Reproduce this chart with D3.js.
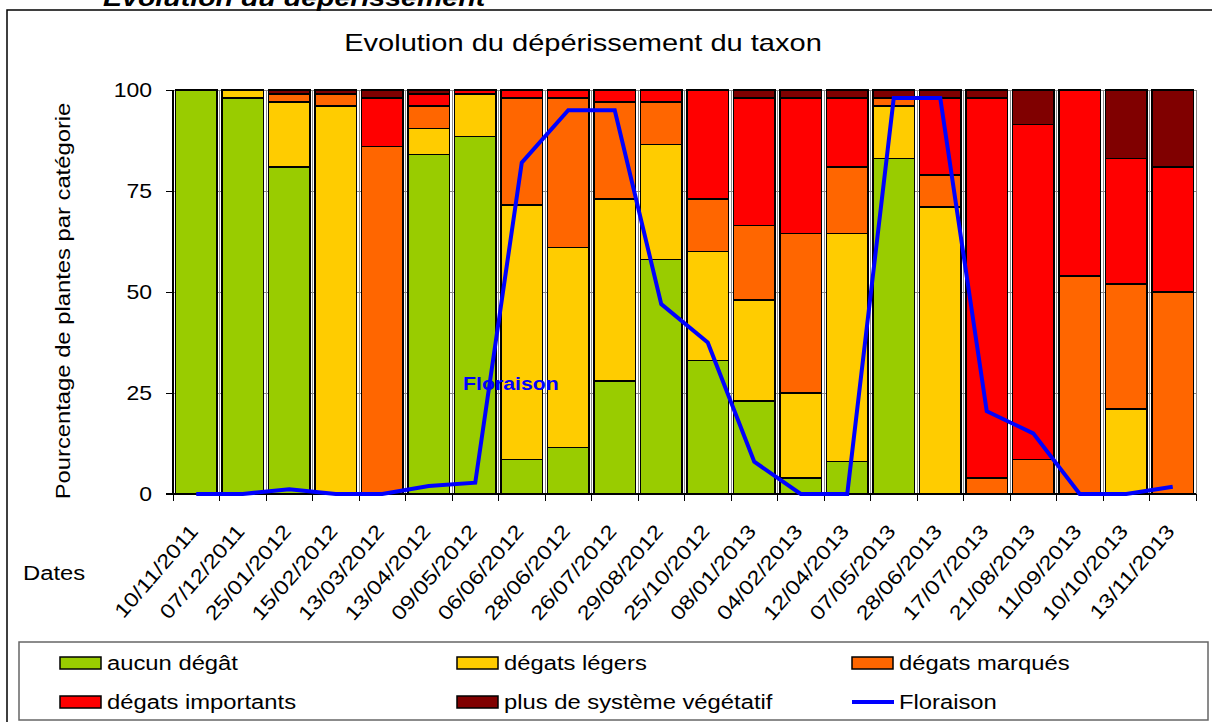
<!DOCTYPE html>
<html>
<head>
<meta charset="utf-8">
<script src="https://d3js.org/d3.v7.min.js"></script>
<style>
body { margin: 0; background: #fff; }
svg { font-family: 'Liberation Sans', Arial, sans-serif; }
.grid line { stroke: #8a8a8a; stroke-width: 1; shape-rendering: crispEdges; }
.seg { stroke: #000; stroke-width: 1.6; shape-rendering: crispEdges; }
</style>
</head>
<body>
<div id="chart"></div>
<script>
// dates (categories)
const dates = ["10/11/2011","07/12/2011","25/01/2012","15/02/2012","13/03/2012","13/04/2012",
  "09/05/2012","06/06/2012","28/06/2012","26/07/2012","29/08/2012","25/10/2012","08/01/2013",
  "04/02/2013","12/04/2013","07/05/2013","28/06/2013","17/07/2013","21/08/2013","11/09/2013",
  "10/10/2013","13/11/2013"];

// percentages per damage class
const aucun      = [100, 98, 81,  0,  0, 84, 88.5,  8.5, 11.5, 28, 58,   33, 23,   4,    8,  83,  0,  0,   0,  0,  0,  0];
const legers     = [  0,  2, 16, 96,  0, 6.5, 10.5, 63,  49.5, 45, 28.5, 27, 25,   21,   56.5, 13, 71,  0,   0,  0, 21,  0];
const marques    = [  0,  0,  2,  3, 86, 5.5,  0,  26.5, 37,   24, 10.5, 13, 18.5, 39.5, 16.5, 2,  8,  4,  8.5, 54, 31, 50];
const importants = [  0,  0,  0,  0, 12, 3,    1,   2,    2,    3,  3,   27, 31.5, 33.5, 17,   0, 19, 94, 83,  46, 31, 31];
const plus       = [  0,  0,  1,  1,  2, 1,    0,   0,    0,    0,  0,    0,  2,    2,    2,   2,  2,  2,  8.5,  0, 17, 19];
const floraison  = [0, 0, 1.2, 0, 0, 2, 2.8, 82, 95, 95, 47, 37.5, 8, 0, 0, 98, 98, 20.5, 15, 0, 0, 1.8];

const keys = ["aucun", "legers", "marques", "importants", "plus"];
const labels = ["aucun dégât", "dégats légers", "dégats marqués", "dégats importants", "plus de système végétatif"];
const colors = ["#99CC00", "#FFCC00", "#FF6600", "#FF0000", "#800000"];
const yTicks = [0, 25, 50, 75, 100];

const rows = dates.map((d, i) => ({
  date: d, aucun: aucun[i], legers: legers[i], marques: marques[i],
  importants: importants[i], plus: plus[i], flor: floraison[i]
}));

const W = 1212, H = 722;
const K = 1.19; // glyphs in the source are wider than Arial

const svg = d3.select("#chart").append("svg")
    .attr("width", W).attr("height", H);

function txt(x, y, s, o) {
  o = o || {};
  return svg.append("text")
    .attr("transform", `translate(${x},${y}) rotate(${o.rot || 0}) scale(${o.k || K},1)`)
    .attr("text-anchor", o.anchor || "start")
    .style("font-size", (o.size || 20) + "px")
    .style("font-weight", o.weight || "normal")
    .style("font-style", o.style || "normal")
    .style("fill", o.fill || "#000")
    .text(s);
}

// heading of the page, cut off by the top of the picture
txt(103, 6, "Evolution du dépérissement", {size: 24, weight: "bold", style: "italic"});

// outer frame
svg.append("rect").attr("x", 7).attr("y", 10).attr("width", 1230).attr("height", 730)
   .attr("fill", "none").attr("stroke", "#000").attr("stroke-width", 1.5);

const x = d3.scaleBand().domain(dates).range([173, 1196]).paddingInner(0.1).paddingOuter(0.05);
const y = d3.scaleLinear().domain([0, 100]).range([494, 90]);
const step = x.step();
const edge = d => x(d) - step * x.paddingInner() / 2;

// grid
const grid = svg.append("g").attr("class", "grid");
grid.selectAll(".h").data(yTicks.slice(1)).enter().append("line")
    .attr("x1", 173).attr("x2", 1196).attr("y1", d => y(d)).attr("y2", d => y(d));
grid.selectAll(".v").data(dates.slice(1).concat(["end"])).enter().append("line")
    .attr("x1", d => d === "end" ? 1196 : edge(d)).attr("x2", d => d === "end" ? 1196 : edge(d))
    .attr("y1", y(100)).attr("y2", y(0));

// stacked bars
const series = d3.stack().keys(keys)(rows);
svg.append("g").selectAll("g").data(series).enter().append("g")
    .attr("fill", (d, i) => colors[i])
  .selectAll("rect").data(d => d.filter(p => p[1] - p[0] > 0)).enter().append("rect")
    .attr("class", "seg")
    .attr("x", d => x(d.data.date))
    .attr("width", x.bandwidth())
    .attr("y", d => y(d[1]))
    .attr("height", d => y(d[0]) - y(d[1]));

// axes
const ax = svg.append("g").attr("stroke", "#000").attr("shape-rendering", "crispEdges");
ax.append("line").attr("x1", 173).attr("x2", 173).attr("y1", y(100)).attr("y2", y(0)).attr("stroke-width", 1.5);
ax.append("line").attr("x1", 166).attr("x2", 1196).attr("y1", y(0)).attr("y2", y(0)).attr("stroke-width", 1.5);
ax.selectAll(".yt").data(yTicks).enter().append("line")
    .attr("x1", 166).attr("x2", 173).attr("y1", d => y(d)).attr("y2", d => y(d));
ax.selectAll(".xt").data(dates.concat(["end"])).enter().append("line")
    .attr("x1", d => d === "end" ? 1196 : edge(d)).attr("x2", d => d === "end" ? 1196 : edge(d))
    .attr("y1", y(0)).attr("y2", y(0) + 7);

yTicks.forEach(v => txt(152, y(v) + 7, String(v), {anchor: "end", k: 1.15}));
dates.forEach(d => txt(x(d) + x.bandwidth() / 2 + 3, 532, d, {anchor: "end", rot: -49}));

txt(583, 51, "Evolution du dépérissement du taxon", {size: 24, anchor: "middle", k: 1.21});
txt(70, 301, "Pourcentage de plantes par catégorie", {rot: -90, anchor: "middle"});
txt(23, 580, "Dates", {});

// flowering line
const line = d3.line().x(d => x(d.date) + x.bandwidth() / 2).y(d => y(d.flor));
svg.append("path").datum(rows).attr("d", line)
    .attr("fill", "none").attr("stroke", "#0000FF").attr("stroke-width", 4)
    .attr("stroke-linejoin", "miter");
txt(463, 390, "Floraison", {size: 19, weight: "bold", fill: "#0000FF", k: 1.12});

// legend
svg.append("rect").attr("x", 19).attr("y", 642).attr("width", 1189).attr("height", 78)
   .attr("fill", "#fff").attr("stroke", "#666").attr("stroke-width", 1.5);
const legItems = labels.map((l, i) => ({label: l, color: colors[i], type: "box"}))
    .concat([{label: "Floraison", color: "#0000FF", type: "line"}]);
const colX = [60, 457, 852], rowY = [663, 702];
legItems.forEach((it, n) => {
  const lx = colX[n % 3], ly = rowY[Math.floor(n / 3)];
  if (it.type === "box") {
    svg.append("rect").attr("x", lx).attr("y", ly - 6).attr("width", 41).attr("height", 12)
       .attr("fill", it.color).attr("stroke", "#000").attr("stroke-width", 1.5);
  } else {
    svg.append("line").attr("x1", lx).attr("x2", lx + 42).attr("y1", ly).attr("y2", ly)
       .attr("stroke", it.color).attr("stroke-width", 4);
  }
  txt(lx + 47, ly + 7, it.label, {});
});
</script>
</body>
</html>
